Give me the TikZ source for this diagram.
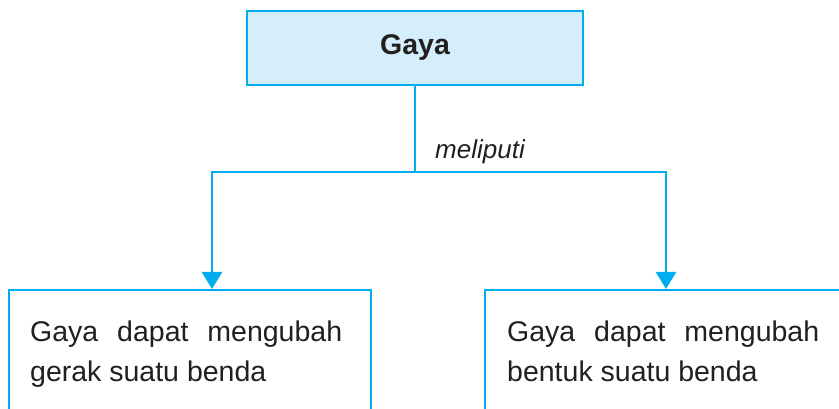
\documentclass[tikz,border=0pt]{standalone}
\usepackage{fontspec}
\setmainfont{Liberation Sans}
\usetikzlibrary{positioning,arrows.meta,calc}
\definecolor{skyline}{RGB}{0,174,239}
\definecolor{skyfill}{RGB}{212,238,251}
\definecolor{inktext}{RGB}{35,31,32}

\begin{document}
\begin{tikzpicture}[
  x=1pt, y=1pt,
  topbox/.style={draw=skyline, fill=skyfill, line width=2.4pt,
    minimum width=336pt, minimum height=74pt, inner sep=0pt,
    font=\fontsize{28.5}{34}\selectfont\bfseries, text=inktext},
  leafbox/.style={draw=skyline, line width=2.4pt, fill=white,
    minimum height=160pt, inner sep=0pt, anchor=north west},
  leaftext/.style={inner sep=0pt, text width=312pt, align=justify,
    font=\fontsize{28.5}{40}\selectfont, text=inktext},
  link/.style={draw=skyline, line width=2.4pt},
  flow/.style={link, -{Triangle[length=17pt,width=20pt]}}
]
% 839 by 409 canvas, the two lower boxes run past its bottom and right edges.
\useasboundingbox (0,0) rectangle (839,409);
\clip (0,0) rectangle (839,409);

% Top: the heading box.
\node[topbox] (gaya) at (415,361) {Gaya};

% Bottom row: two boxes, their text set inside.
\node[leafbox, minimum width=362pt] (gerak) at (8,120) {};
\node[leaftext, below right=32pt and 22pt of gerak.north west]
  (geraktext) {Gaya dapat mengubah\linebreak gerak suatu benda};
\node[leafbox, minimum width=400pt] (bentuk) at (484,120) {};
\node[leaftext, below right=32pt and 23pt of bentuk.north west]
  (bentuktext) {Gaya dapat mengubah\linebreak bentuk suatu benda};

% Branch points on the horizontal bar.
\coordinate (junc) at (gaya.south |- 0,237);
\coordinate (jleft) at (212,237);
\coordinate (jright) at (666,237);

\draw[link] (gaya.south) -- (junc);
\draw[flow] (junc) -| (jleft |- gerak.north);
\draw[flow] (junc) -| (jright |- bentuk.north);

\node[inner sep=0pt, anchor=base west, text=inktext,
  font=\fontsize{26}{30}\selectfont\itshape]
  (meliputi) at ($(junc)+(20,13)$) {meliputi};
\end{tikzpicture}
\end{document}
